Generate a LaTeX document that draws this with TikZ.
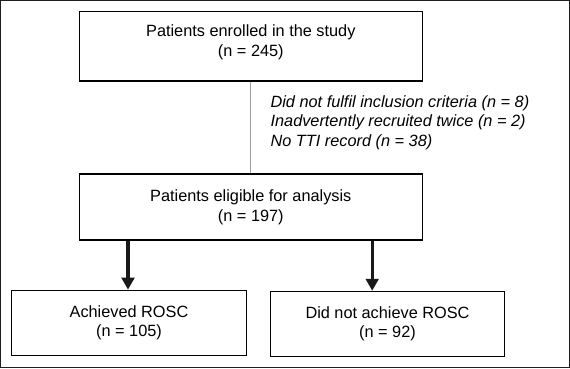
\documentclass[tikz,border=0pt]{standalone}
\usepackage{fontspec}
\setmainfont{Liberation Sans}
\usetikzlibrary{arrows.meta}

\begin{document}
\begin{tikzpicture}
  [ x=1pt, y=-1pt,
    box1/.style={rectangle, draw=black, line width=1.1pt, minimum width=343.2pt, minimum height=67pt, inner sep=0pt, align=center, font=\fontsize{16.3}{19.6}\selectfont},
    box2/.style={rectangle, draw=black, line width=1.1pt, minimum width=234.5pt, minimum height=65pt, inner sep=0pt, align=center, font=\fontsize{16.3}{19.3}\selectfont},
    note/.style={inner sep=0pt, align=left, font=\fontsize{16.3}{19.3}\selectfont\itshape},
    line1/.style={-, line width=0.9pt, black!38},
    line2/.style={-{Triangle[width=12.7pt,length=12pt]}, line width=3.2pt, black!90},
    frame/.style={draw=black!88, line width=1.3pt}
  ]

  \useasboundingbox (0,0) rectangle (570,368);
  \draw [frame] (0.65,0.65) rectangle (569.35,367.35);

  \node[box1, minimum height=69.3pt, text depth=11pt] (enrolled) at (250.8,46.3) {Patients enrolled in the study\\(n = 245)};
  \node[box1, minimum height=66pt] (eligible) at (250.8,207) {Patients eligible for analysis\\(n = 197)};
  \node[box2] (achieved) at (129,322.7) {Achieved ROSC\\(n = 105)};
  \node[box2] (failed) at (387.5,323.8) {Did not achieve ROSC\\(n = 92)};

  \node[note, anchor=west] (excluded) at (270.4,122.5) {Did not fulfil inclusion criteria (n = 8)\\Inadvertently recruited twice (n = 2)\\No TTI record (n = 38)};

  \draw [line1] (enrolled.south) -- (eligible.north);
  \draw [line2] ([xshift=-1pt]achieved.north |- eligible.south) -- ([xshift=-1pt]achieved.north);
  \draw [line2] ([xshift=-15.3pt]failed.north |- eligible.south) -- ([xshift=-15.3pt]failed.north);
\end{tikzpicture}
\end{document}
